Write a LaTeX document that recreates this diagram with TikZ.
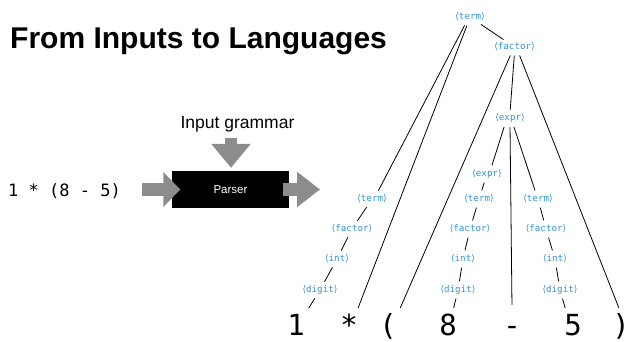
\documentclass[tikz,border=0pt]{standalone}
\usepackage{fontspec}
\setmainfont{Liberation Sans}
\newfontfamily\monof{DejaVu Sans Mono}
\newfontfamily\brkf{DejaVu Sans}
\usetikzlibrary{arrows.meta}
\definecolor{ntblue}{RGB}{52,148,214}
\definecolor{arrowgray}{RGB}{140,140,140}
\newcommand{\ntm}[1]{{\brkf ⟨}#1{\brkf ⟩}}
\tikzset{
  lbl/.style={font=\monof\fontsize{9.2}{11}\selectfont, text=ntblue, inner xsep=1pt, inner ysep=1.5pt, text height=6pt, text depth=2pt},
  tok/.style={font=\monof\fontsize{29}{30}\selectfont, anchor=base, inner sep=0pt, text height=24pt, text depth=0pt},
  tree/.style={draw=black, line width=0.8pt, shorten <=3pt, shorten >=3pt},
}
\begin{document}
\begin{tikzpicture}[x=1pt,y=-1pt]
\useasboundingbox (0,0) rectangle (634,341);
% title
\node[anchor=base west, font=\bfseries\fontsize{30}{32}\selectfont, inner sep=0pt] (title) at (10,48) {From Inputs to Languages};
% left diagram
\node[anchor=base west, font=\monof\fontsize{17}{20}\selectfont, inner sep=0pt] (inp) at (8,196) {1 * (8 - 5)};
\node[anchor=base, font=\fontsize{17.5}{20}\selectfont, inner sep=0pt] (gram) at (237.5,128) {Input grammar};
\node[fill=black, minimum width=117pt, minimum height=37pt, inner sep=0pt, text=white, font=\fontsize{11.5}{13}\selectfont] (parser) at (230.5,189.5) {Parser};
\coordinate (gin) at (231,137.5);
\coordinate (pout) at (320,189.5);
\draw[draw=arrowgray, line width=12pt, -{Triangle[width=38pt,length=24pt]}, arrowgray] (gin) -- ([xshift=0.5pt,yshift=3pt]parser.north);
\draw[draw=arrowgray, line width=13pt, -{Triangle[width=34pt,length=17pt]}, arrowgray] ([xshift=21pt]inp.east |- parser.west) -- ([xshift=8.5pt]parser.west);
\draw[draw=arrowgray, line width=13pt, -{Triangle[width=34pt,length=23pt]}, arrowgray] ([xshift=-6pt]parser.east) -- (pout);
% tree labels
\node[lbl] (T0) at (470,17) {\ntm{term}};
\node[lbl] (F0) at (514.5,47) {\ntm{factor}};
\node[lbl] (E0) at (510,118.5) {\ntm{expr}};
\node[lbl] (E1) at (487,174) {\ntm{expr}};
\node[lbl] (T1) at (372,199) {\ntm{term}};
\node[lbl] (F1) at (352,229) {\ntm{factor}};
\node[lbl] (I1) at (337,259) {\ntm{int}};
\node[lbl] (D1) at (320,290) {\ntm{digit}};
\node[lbl] (T2) at (479,199) {\ntm{term}};
\node[lbl] (F2) at (470,229) {\ntm{factor}};
\node[lbl] (I2) at (463,259) {\ntm{int}};
\node[lbl] (D2) at (458,290) {\ntm{digit}};
\node[lbl] (T3) at (538,199) {\ntm{term}};
\node[lbl] (F3) at (546,229) {\ntm{factor}};
\node[lbl] (I3) at (555,259) {\ntm{int}};
\node[lbl] (D3) at (560,290) {\ntm{digit}};
% tokens
\node[tok] (one) at (296,335) {1};
\node[tok] (star) at (349,335) {*};
\node[tok] (lp) at (388,335) {(};
\node[tok] (eight) at (448,335) {8};
\node[tok] (minus) at (512,335) {-};
\node[tok] (five) at (573,335) {5};
\node[tok] (rp) at (621,335) {)};
% tree connectors
\draw[tree] ([xshift=-4pt]T0.south) -- ([xshift=5pt]T1.north);
\draw[tree] ([xshift=-2pt]T0.south) -- ([xshift=8pt]star.north);
\draw[tree] (T0) -- (F0);
\draw[tree] ([xshift=-3pt]F0.south) -- ([xshift=11pt]lp.north);
\draw[tree] (F0.south) -- (E0.north);
\draw[tree] ([xshift=4pt]F0.south) -- ([xshift=-1pt]rp.north);
\draw[tree] ([xshift=-5pt]E0.south) -- ([xshift=4pt]E1.north);
\draw[tree] (E0.south) -- ([yshift=3pt]minus.north);
\draw[tree] ([xshift=3pt]E0.south) -- ([xshift=-2pt]T3.north);
\draw[tree] (E1) -- (T2);
\draw[tree] (T1) -- (F1);
\draw[tree] (F1) -- (I1);
\draw[tree] (I1) -- (D1);
\draw[tree] (D1) -- ([xshift=11pt]one.north);
\draw[tree] (T2) -- (F2);
\draw[tree] (F2) -- (I2);
\draw[tree] (I2) -- (D2);
\draw[tree] (D2) -- ([xshift=5pt]eight.north);
\draw[tree] (T3) -- (F3);
\draw[tree] (F3) -- (I3);
\draw[tree] (I3) -- (D3);
\draw[tree] (D3) -- ([xshift=-7pt]five.north);
\end{tikzpicture}
\end{document}
